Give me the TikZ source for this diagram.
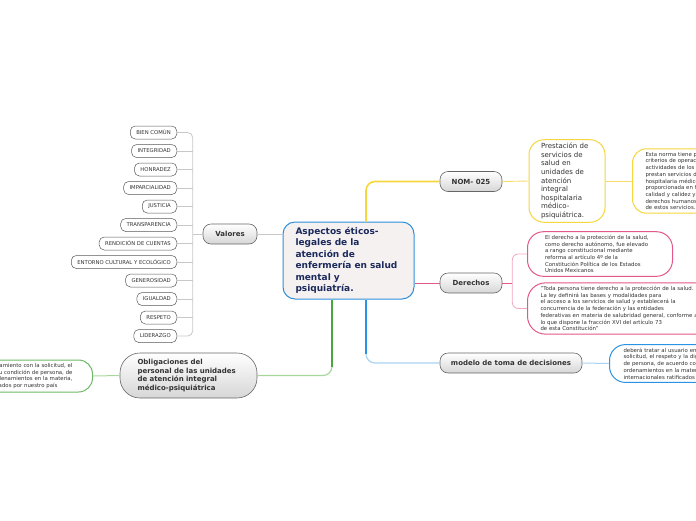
\documentclass[tikz,border=0pt]{standalone}
\usepackage{fontspec}
\setmainfont{DejaVu Sans}
\usetikzlibrary{calc}
\definecolor{cblue}{HTML}{2E8FDB}
\definecolor{cfill}{HTML}{F6F1F1}
\definecolor{navy}{HTML}{1B2A5C}
\definecolor{ylw}{HTML}{F6D63E}
\definecolor{ylwl}{HTML}{F8DC6A}
\definecolor{pnk}{HTML}{E4578B}
\definecolor{pnkl}{HTML}{F2A6C1}
\definecolor{blu}{HTML}{2B93E3}
\definecolor{blul}{HTML}{A9D3F2}
\definecolor{grn}{HTML}{48A840}
\definecolor{grnl}{HTML}{A6D89C}
\definecolor{gry}{HTML}{C8C8C8}
\definecolor{txt}{HTML}{333333}
\tikzset{
  central/.style={draw=cblue, line width=1pt, fill=cfill, rounded corners=12pt,
    text width=106pt, align=left, inner xsep=12.5pt, minimum height=77pt,
    font=\fontsize{9}{11.5}\selectfont\bfseries, text=navy},
  branch/.style={draw=black!60, line width=0.6pt, rounded corners=8pt,
    top color=white, bottom color=black!16, minimum height=20pt, inner sep=0pt,
    font=\fontsize{7}{8.7}\selectfont\bfseries, text=txt},
  valbox/.style={draw=black!65, line width=0.5pt, rounded corners=5pt, fill=white,
    minimum height=13pt, inner xsep=6pt, inner ysep=0pt,
    font=\fontsize{5.3}{6}\selectfont, text=txt},
  note/.style={line width=1pt, rounded corners=14pt, fill=white, align=left,
    font=\fontsize{5.4}{6.7}\selectfont, text=txt},
  gline/.style={draw=gry, line width=0.8pt},
}
\begin{document}
\begin{tikzpicture}[x=1pt,y=-1pt]
\useasboundingbox (0,0) rectangle (696,520);
\clip (0,0) rectangle (696,520);

% central
\node[central] (c) at (348.5,260.5) {Aspectos éticos-\\legales de la\\atención de\\enfermería en salud\\mental y\\psiquiatría.};

% branches
\node[branch, minimum width=62pt] (nom) at (471,181.5) {NOM- 025};
\node[branch, minimum width=62pt] (der) at (471,283) {Derechos};
\node[branch, minimum width=142pt] (mod) at (511,363) {modelo de toma de decisiones};
\node[branch, minimum width=54pt] (val) at (230,234) {Valores};
\node[branch, rounded corners=20pt, minimum height=45pt, text width=102pt, inner xsep=17.5pt, align=left] (obl) at (188.5,375.5) {Obligaciones del\\personal de las unidades\\de atención integral\\médico-psiquiátrica};

% NOM children
\node[note, draw=ylw, text width=52pt, inner xsep=12pt, minimum height=82pt, rounded corners=15pt,
  font=\fontsize{7}{8.6}\selectfont] (pre) at (567,181) {Prestación de\\servicios de\\salud en\\unidades de\\atención\\integral\\hospitalaria\\médico-\\psiquiátrica.};
\node[note, draw=ylw, anchor=west, text width=200pt, inner xsep=13pt, minimum height=64pt] (est) at (632,181) {Esta norma tiene por objeto establecer los\\criterios de operación y organización de las\\actividades de los establecimientos que\\prestan servicios de atención integral\\hospitalaria médico-psiquiátrica, la cual deberá ser\\proporcionada en forma continua, con\\calidad y calidez y con pleno respeto a los\\derechos humanos de las personas usuarias\\de estos servicios.};

% Derechos children
\node[note, draw=pnk, anchor=west, text width=110pt, inner xsep=17.5pt, minimum height=44pt, rounded corners=16pt] (d1) at (527,254) {El derecho a la protección de la salud,\\como derecho autónomo, fue elevado\\a rango constitucional mediante\\reforma al artículo 4º de la\\Constitución Política de los Estados\\Unidos Mexicanos};
\node[note, draw=pnk, anchor=west, text width=200pt, inner xsep=13pt, minimum height=51pt, rounded corners=18pt] (d2) at (527,308.5) {"Toda persona tiene derecho a la protección de la salud.\\La ley definirá las bases y modalidades para\\el acceso a los servicios de salud y establecerá la\\concurrencia de la federación y las entidades\\federativas en materia de salubridad general, conforme a\\lo que dispone la fracción XVI del artículo 73\\de esta Constitución"};

% modelo child
\node[note, draw=blu, anchor=west, text width=200pt, inner xsep=14pt, minimum height=37pt, rounded corners=16pt] (deb) at (609,363.5) {deberá tratar al usuario en\\solicitud, el respeto y la dignidad\\de persona, de acuerdo con\\ordenamientos en la materia,\\internacionales ratificados};

% Obligaciones child
\node[note, draw=grn!80, anchor=east, text width=100pt, inner xsep=20pt, minimum height=32pt, align=right, rounded corners=14pt] (ob1) at (93,376) {tratamiento con la solicitud, el\hspace*{1pt}\\su condición de persona, de\hspace*{4pt}\\ordenamientos en la materia,\\ratificados por nuestro país\hspace*{15pt}};

% values
\node[valbox, anchor=east] (v1) at (177,132.5) {BIEN COMÚN};
\node[valbox, anchor=east] (v2) at (177,151) {INTEGRIDAD};
\node[valbox, anchor=east] (v3) at (177,169.5) {HONRADEZ};
\node[valbox, anchor=east] (v4) at (177,188) {IMPARCIALIDAD};
\node[valbox, anchor=east] (v5) at (177,206.5) {JUSTICIA};
\node[valbox, anchor=east] (v6) at (177,225) {TRANSPARENCIA};
\node[valbox, anchor=east] (v7) at (177,243.5) {RENDICIÓN DE CUENTAS};
\node[valbox, anchor=east] (v8) at (177,262) {ENTORNO CULTURAL Y ECOLÓGICO};
\node[valbox, anchor=east] (v9) at (177,280.5) {GENEROSIDAD};
\node[valbox, anchor=east] (v10) at (177,299) {IGUALDAD};
\node[valbox, anchor=east] (v11) at (177,317.5) {RESPETO};
\node[valbox, anchor=east] (v12) at (177,336) {LIDERAZGO};

% connectors: central -> branches
\draw[draw=ylw, line width=1.6pt, rounded corners=9pt] ([xshift=17.5pt]c.north) |- (nom.west);
\draw[draw=pnk, line width=0.9pt] (der.west -| c.east) -- (der.west);
\draw[draw=blul, line width=1.2pt, rounded corners=9pt] ([xshift=17.5pt]c.south) |- (mod.west);
\draw[draw=blu, line width=1.6pt] ([xshift=17.5pt]c.south) -- ($([xshift=17.5pt]c.south |- mod.west)+(0,-9)$);
\draw[draw=grnl, line width=1.2pt, rounded corners=9pt] ([xshift=-16.5pt]c.south) |- (obl.east);
\draw[draw=grn, line width=1.6pt] ([xshift=-16.5pt]c.south) -- ($([xshift=-16.5pt]c.south |- obl.east)+(0,-9)$);
\draw[gline] (val.east -| c.west) -- (val.east);

% branch -> children
\draw[draw=ylwl, line width=0.9pt] (nom.east) -- (pre.west);
\draw[draw=ylwl, line width=0.9pt] (pre.east) -- (est.west);
\coordinate (pb) at ([xshift=10pt]der.east);
\draw[draw=pnk, line width=0.8pt] (der.east) -- (pb);
\draw[draw=pnkl, line width=0.8pt, rounded corners=6pt] (d1.west) -| (pb) |- (d2.west);
\draw[draw=blul, line width=1pt] (mod.east) -- (deb.west);
\draw[draw=grnl, line width=1pt] (obl.west) -- (ob1.east);

% values bracket
\coordinate (bar) at ([xshift=-10pt]val.west);
\draw[gline] (val.west) -- (bar);
\draw[gline, rounded corners=5pt] (v1.east) -| (bar) |- (v12.east);
\foreach \i in {2,...,11} {\draw[gline] (v\i.east) -- (v\i.east -| bar);}
\end{tikzpicture}
\end{document}
